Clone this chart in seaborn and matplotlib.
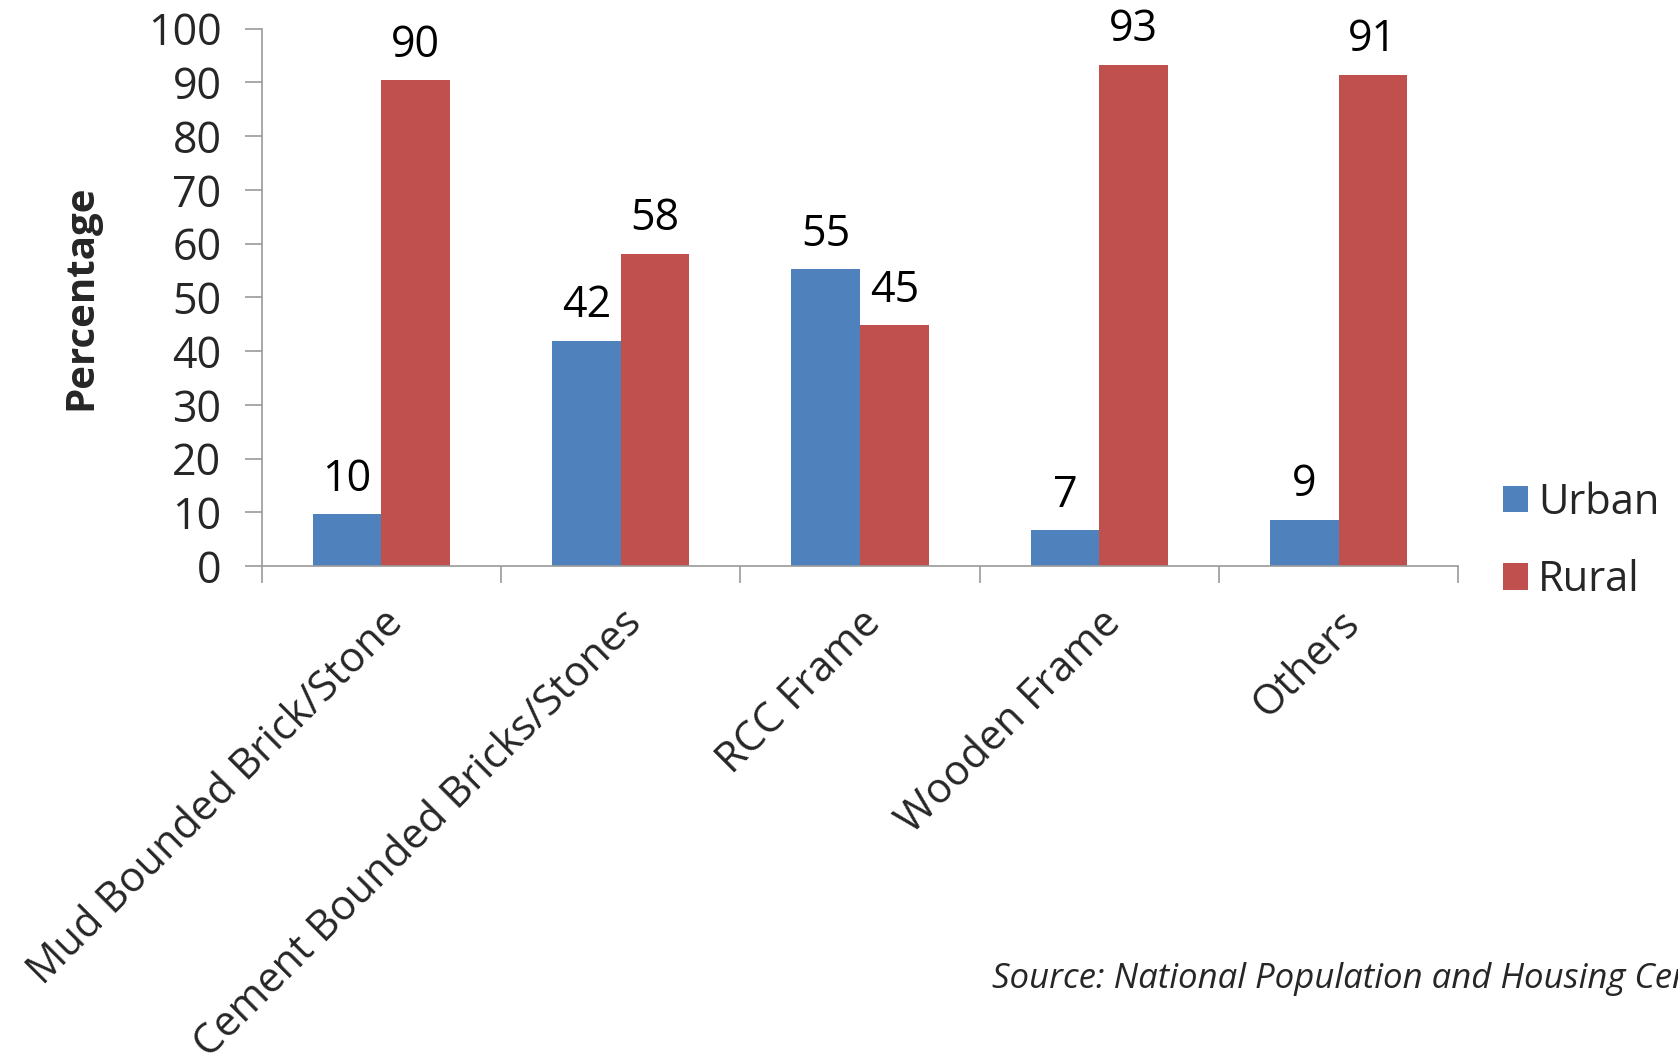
import matplotlib
matplotlib.use("Agg")
import matplotlib.pyplot as plt
import seaborn as sns
import pandas as pd

categories = ["Mud Bounded Brick/Stone", "Cement Bounded Bricks/Stones",
              "RCC Frame", "Wooden Frame", "Others"]
urban = [9.6, 41.9, 55.2, 6.7, 8.6]
rural = [90.4, 58.1, 44.8, 93.3, 91.4]
urban_labels = ["10", "42", "55", "7", "9"]
rural_labels = ["90", "58", "45", "93", "91"]
yticks = [0, 10, 20, 30, 40, 50, 60, 70, 80, 90, 100]

sns.set_theme(style="white")
plt.rcParams["font.family"] = ["Open Sans", "DejaVu Sans"]

df = pd.DataFrame({
    "Category": categories * 2,
    "Area": ["Urban"] * len(categories) + ["Rural"] * len(categories),
    "Value": urban + rural,
})

fig = plt.figure(figsize=(16.78, 10.64), dpi=100)
ax = fig.add_axes([0.156, 0.468, 0.713, 0.505])

sns.barplot(data=df, x="Category", y="Value", hue="Area",
            palette={"Urban": "#4F81BD", "Rural": "#C0504D"},
            width=0.573, gap=0, saturation=1, linewidth=0, ax=ax)

for cont, labs in zip(ax.containers, [urban_labels, rural_labels]):
    ax.bar_label(cont, labels=labs, padding=9, fontsize=31, color="black")

ax.set_ylim(0, 100)
ax.set_xlim(-0.5, len(categories) - 0.5)
ax.set_yticks(yticks)
ax.set_yticklabels([str(t) for t in yticks], fontsize=31)
ax.set_xticks(range(len(categories)))
ax.set_xticklabels(categories, rotation=45, ha="right", va="top",
                   rotation_mode="anchor", fontsize=30)
ax.set_xticks([i - 0.5 for i in range(len(categories) + 1)], minor=True)
ax.tick_params(axis="x", which="major", length=0, pad=26)
ax.tick_params(axis="x", which="minor", length=12, width=1.2, color="#999999", direction="out", bottom=True)
ax.tick_params(axis="y", length=12, width=1.2, color="#999999", direction="out", left=True, pad=17)
ax.set_xlabel("")
ax.set_ylabel("Percentage", fontsize=29, fontweight="bold", labelpad=34)

for s in ["top", "right"]:
    ax.spines[s].set_visible(False)
for s in ["left", "bottom"]:
    ax.spines[s].set_color("#999999")
    ax.spines[s].set_linewidth(1.2)

leg = ax.legend(loc="center left", bbox_to_anchor=(1.006, 0.046), frameon=False,
                fontsize=30, handlelength=0.6, handleheight=0.6,
                handletextpad=0.25, labelspacing=0.85)

fig.text(0.591, 0.08, "Source: National Population and Housing Census",
         fontsize=25, style="italic", ha="left", va="center")

fig.savefig("out.png", dpi=100)
